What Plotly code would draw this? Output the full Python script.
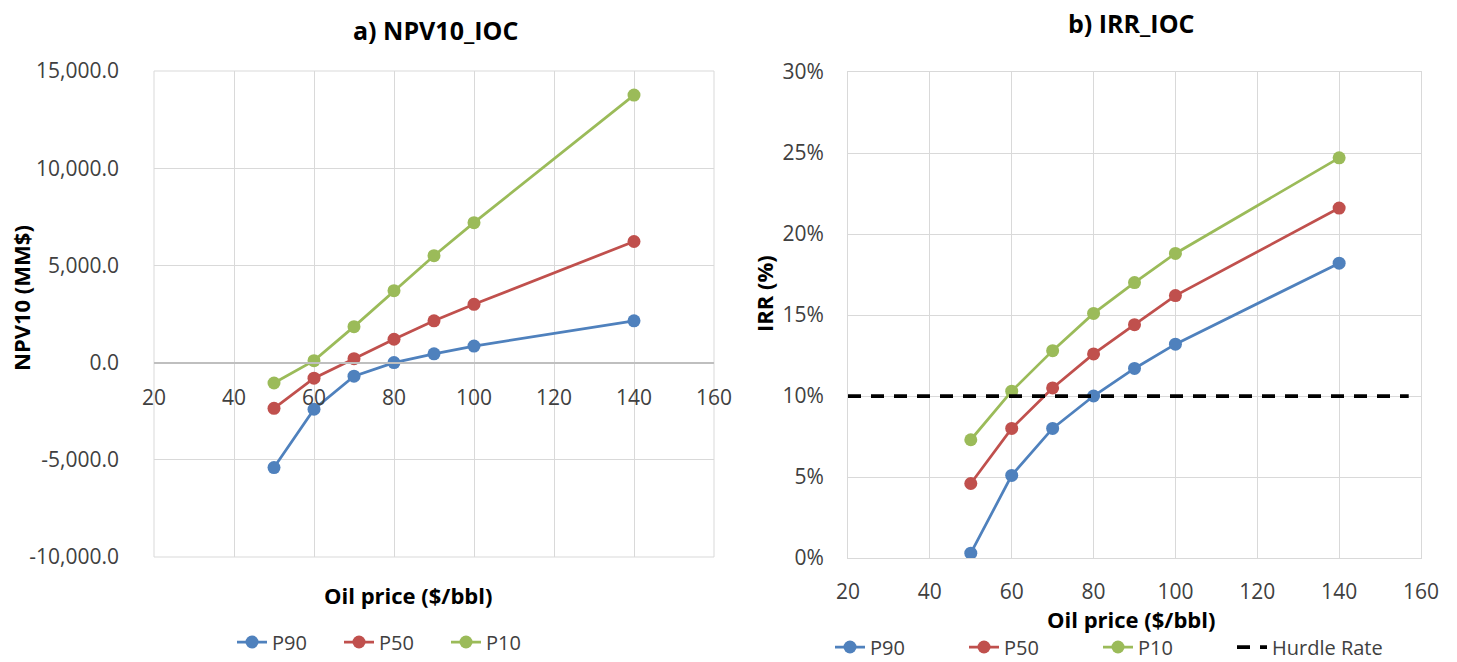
import plotly.graph_objects as go

# Oil price scenarios ($/bbl)
oil_price = [50, 60, 70, 80, 90, 100, 140]

# NPV10 for the IOC (MM$)
npv_p90 = [-5400, -2400, -700, 0, 450, 850, 2150]
npv_p50 = [-2350, -800, 200, 1200, 2150, 3000, 6230]
npv_p10 = [-1050, 100, 1850, 3700, 5500, 7200, 13760]

# IRR for the IOC (%)
irr_p90 = [0.3, 5.1, 8.0, 10.0, 11.7, 13.2, 18.2]
irr_p50 = [4.6, 8.0, 10.5, 12.6, 14.4, 16.2, 21.6]
irr_p10 = [7.3, 10.3, 12.8, 15.1, 17.0, 18.8, 24.7]

# Hurdle rate (%)
hurdle_x = [20, 157]
hurdle_rate = [10, 10]

npv_tickvals = [-10000, -5000, 0, 5000, 10000, 15000]
npv_ticktext = ["-10,000.0", "-5,000.0", "0.0", "5,000.0", "10,000.0", "15,000.0"]
irr_tickvals = [0, 5, 10, 15, 20, 25, 30]
irr_ticktext = ["0%", "5%", "10%", "15%", "20%", "25%", "30%"]
price_tickvals = [20, 40, 60, 80, 100, 120, 140, 160]

W, H = 1457, 662
FONT = "Open Sans"
BLUE, RED, GREEN = "#4f81bd", "#c0504d", "#9bbb59"
GRID = "#d9d9d9"
TEXT = "#404040"


def px_x(x):
    return x / W


def px_y(y):
    return 1 - y / H


fig = go.Figure()

series = [("P90", BLUE), ("P50", RED), ("P10", GREEN)]
for (name, color), ys in zip(series, [npv_p90, npv_p50, npv_p10]):
    fig.add_trace(go.Scatter(
        x=oil_price, y=ys, name=name, mode="lines+markers",
        line=dict(color=color, width=2.75),
        marker=dict(color=color, size=13),
        xaxis="x", yaxis="y", legend="legend",
    ))

for (name, color), ys in zip(series, [irr_p90, irr_p50, irr_p10]):
    fig.add_trace(go.Scatter(
        x=oil_price, y=ys, name=name, mode="lines+markers",
        line=dict(color=color, width=2.75),
        marker=dict(color=color, size=13),
        xaxis="x2", yaxis="y2", legend="legend2",
    ))

fig.add_trace(go.Scatter(
    x=hurdle_x, y=hurdle_rate, name="Hurdle Rate", mode="lines",
    line=dict(color="black", width=3.75, dash="13px,10px"),
    xaxis="x2", yaxis="y2", legend="legend3",
))

# plot-area geometry (pixels)
L_x0, L_x1, L_y0, L_y1 = 154, 714, 71, 557
R_x0, R_x1, R_y0, R_y1 = 848, 1421, 72, 558

ly_dom = [px_y(L_y1), px_y(L_y0)]
zero_pos = ly_dom[0] + (0 - (-10000)) / 25000 * (ly_dom[1] - ly_dom[0])

tick_font = dict(family=FONT, size=21, color=TEXT)
title_font = dict(family=FONT, size=22, color="black")
head_font = dict(family=FONT, size=25, color="black")
legend_font = dict(family=FONT, size=20, color=TEXT)


def label(text, x, y, font, angle=0):
    return dict(text=text, x=px_x(x), y=px_y(y), xref="paper", yref="paper",
                xanchor="center", yanchor="middle", showarrow=False,
                textangle=angle, font=font)


legend_common = dict(orientation="h", yanchor="middle", xanchor="left",
                     font=legend_font, tracegroupgap=0, bgcolor="rgba(0,0,0,0)")

fig.update_layout(
    width=W, height=H,
    margin=dict(l=0, r=0, t=0, b=0, autoexpand=False),
    paper_bgcolor="white", plot_bgcolor="white",
    font=dict(family=FONT),
    showlegend=True,
    xaxis=dict(
        domain=[px_x(L_x0), px_x(L_x1)], range=[20, 160],
        anchor="free", position=zero_pos,
        tickvals=price_tickvals, tickfont=tick_font,
        showgrid=True, gridcolor=GRID, gridwidth=1,
        showline=True, linecolor="#bfbfbf", linewidth=1.5,
        zeroline=False, ticks="", ticklabelstandoff=16,
    ),
    yaxis=dict(
        domain=ly_dom, range=[-10000, 15000], anchor="x",
        tickvals=npv_tickvals, ticktext=npv_ticktext, tickfont=tick_font,
        showgrid=True, gridcolor=GRID, gridwidth=1,
        zeroline=False, showline=False, ticks="", ticklabelstandoff=34,
    ),
    xaxis2=dict(
        domain=[px_x(R_x0), px_x(R_x1)], range=[20, 160], anchor="y2",
        tickvals=price_tickvals, tickfont=tick_font,
        showgrid=True, gridcolor=GRID, gridwidth=1,
        showline=True, linecolor=GRID, linewidth=1, mirror=True,
        zeroline=False, ticks="", ticklabelstandoff=15,
    ),
    yaxis2=dict(
        domain=[px_y(R_y1), px_y(R_y0)], range=[0, 30], anchor="x2",
        tickvals=irr_tickvals, ticktext=irr_ticktext, tickfont=tick_font,
        showgrid=True, gridcolor=GRID, gridwidth=1,
        showline=True, linecolor=GRID, linewidth=1, mirror=True,
        zeroline=False, ticks="", ticklabelstandoff=19,
    ),
    legend=dict(x=px_x(232), y=px_y(642), entrywidth=62, **legend_common),
    legend2=dict(x=px_x(830), y=px_y(647), entrywidth=89, **legend_common),
    legend3=dict(x=px_x(1232), y=px_y(647), **legend_common),
    annotations=[
        label("<b>a) NPV10_IOC</b>", 435, 30, head_font),
        label("<b>b) IRR_IOC</b>", 1131, 23, head_font),
        label("<b>Oil price ($/bbl)</b>", 408, 595, title_font),
        label("<b>Oil price ($/bbl)</b>", 1131, 619, title_font),
        label("<b>NPV10 (MM$)</b>", 21, 298, title_font, -90),
        label("<b>IRR (%)</b>", 764, 294, title_font, -90),
    ],
)

# outer frame of the NPV plot area
fig.add_shape(type="rect", xref="x domain", yref="y domain", x0=0, x1=1, y0=0, y1=1,
              line=dict(color=GRID, width=1), layer="below")

fig.write_html("out.html")
